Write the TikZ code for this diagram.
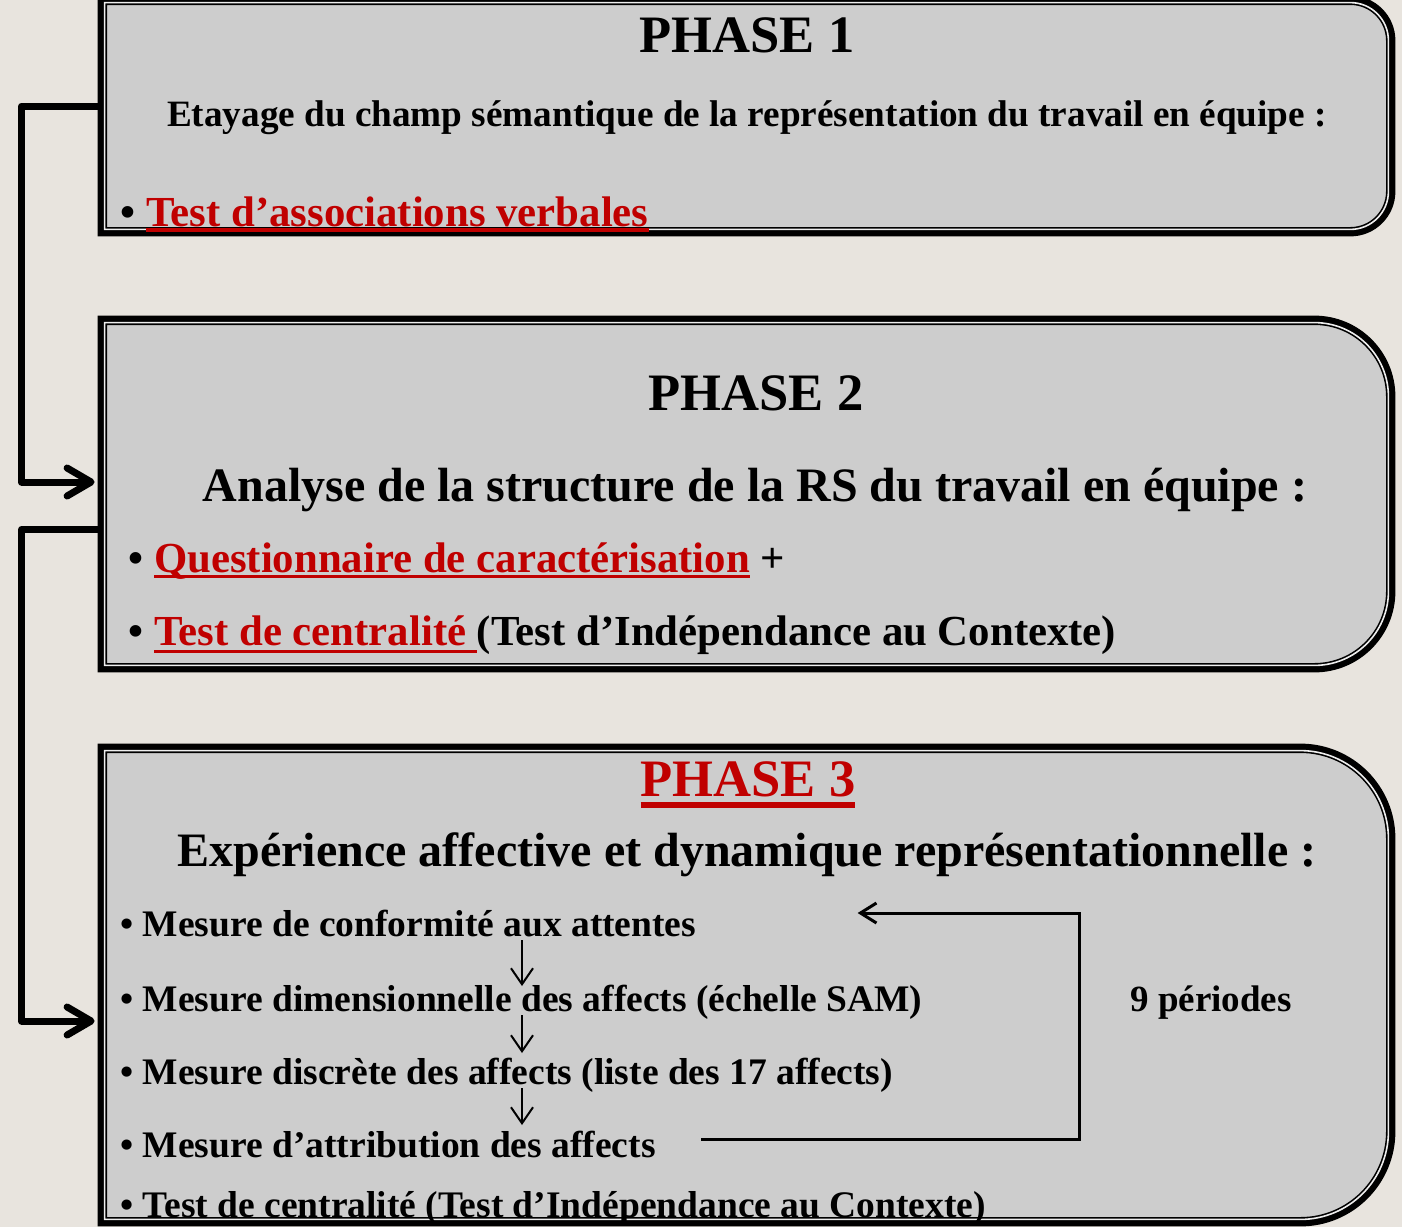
\documentclass[tikz,border=0pt]{standalone}
\usepackage{fontspec}
\setmainfont{Liberation Serif}
\usetikzlibrary{arrows.meta}

\definecolor{bgbeige}{HTML}{E8E4DE}
\definecolor{boxgrey}{HTML}{CDCDCD}
\definecolor{gapgrey}{HTML}{EEEEEE}
\definecolor{phred}{HTML}{C00000}

% red underlined text: #1 = rule thickness, #2 = depth of its lower edge
\newcommand{\redul}[3]{{\color{phred}\setbox0=\hbox{#3}\rlap{\rule[-#2]{\wd0}{#1}}\box0}}

% frame with sharp left corners and rounded right corners
\newcommand{\phaseframe}[2]{%
  \path[phase frame] (#1.north west) -- ([xshift=-#2]#1.north east)
    arc[start angle=90, end angle=0, radius=#2] -- ([yshift=#2]#1.south east)
    arc[start angle=0, end angle=-90, radius=#2] -- (#1.south west) -- cycle;}

\tikzset{
  phase box/.style={rectangle, inner sep=0pt, minimum width=641.5pt},
  phase frame/.style={fill=boxgrey, preaction={draw=black, line width=7pt},
    postaction={draw=black, double=gapgrey, double distance=0.8pt, line width=0.8pt}},
  link/.style={line width=3.5pt, line join=round,
    -{Straight Barb[length=12pt, width=14pt, line cap=round, line join=round]}},
  stepline/.style={line width=1pt, -{Straight Barb[length=8pt, width=11pt]}},
  loopline/.style={line width=1.5pt, -{Straight Barb[length=8pt, width=10pt]}},
  title/.style={anchor=base, inner sep=0pt, font=\fontsize{26.3}{30}\selectfont\bfseries},
  heading/.style={anchor=base, inner sep=0pt, font=\fontsize{#1}{#1}\selectfont\bfseries},
  item/.style={anchor=base west, inner sep=0pt, font=\fontsize{#1}{#1}\selectfont\bfseries},
  item/.default=18.75
}

\begin{document}
\begin{tikzpicture}[x=0.5pt, y=0.5pt]
\useasboundingbox (0,0) rectangle (1402,-1227);
\fill[bgbeige] (0,0) rectangle (1402,-1227);

% the three phases
\node[phase box, minimum height=113pt] (ph1) at (746.5,-116) {};
\node[phase box, minimum height=171pt] (ph2) at (746.5,-494) {};
\node[phase box, minimum height=234pt] (ph3) at (746.5,-985) {};

\draw[link] (ph1.west) ++(0,10) -- ++(-83,0) |- ([shift={(-5pt,6pt)}]ph2.west);
\draw[link] (ph2.west) ++(0,-35.5) -- ++(-83,0) |- ([shift={(-5pt,-18pt)}]ph3.west);

\phaseframe{ph1}{19pt}
\phaseframe{ph2}{37pt}
\phaseframe{ph3}{44pt}

% phase 1
\node[title] (t1) at (747,-52) {PHASE 1};
\node[heading=18.6] (h1) at (747,-126) {Etayage du champ sémantique de la représentation du travail en équipe :};
\node[item=21.4] (a1) at (120,-226) {\textbullet\ \redul{2pt}{3pt}{Test d’associations verbales}};

% phase 2
\node[title] (t2) at (756,-410) {PHASE 2};
\node[heading=24] (h2) at (755,-501) {Analyse de la structure de la RS du travail en équipe :};
\node[item=21.4] (b1) at (128,-572) {\textbullet\ \redul{1.7pt}{3pt}{Questionnaire de caractérisation} +};
\node[item=21.4] (b2) at (128,-645) {\textbullet\ \redul{1.7pt}{4pt}{Test de centralité\ }(Test d’Indépendance au Contexte)};

% phase 3
\node[title] (t3) at (748,-796) {\redul{3pt}{6pt}{PHASE 3}};
\node[heading=24] (h3) at (747,-866) {Expérience affective et dynamique représentationnelle :};
\node[item] (m1) at (120,-936) {\textbullet\ Mesure de conformité aux attentes};
\node[item] (m2) at (120,-1011) {\textbullet\ Mesure dimensionnelle des affects (échelle SAM)};
\node[item] (m3) at (120,-1084) {\textbullet\ Mesure discrète des affects (liste des 17 affects)};
\node[item] (m4) at (120,-1157) {\textbullet\ Mesure d’attribution des affects};
\node[item] (m5) at (120,-1217) {\textbullet\ Test de centralité (Test d’Indépendance au Contexte)};
\node[item=18.5] (per) at (1130,-1011) {9 périodes};

\coordinate (sx) at (522,0);
\draw[stepline] ([yshift=-2pt]m1.base -| sx) -- ([yshift=12.5pt]m2.base -| sx);
\draw[stepline] ([yshift=-2pt]m2.base -| sx) -- ([yshift=15.5pt]m3.base -| sx);
\draw[stepline] ([yshift=-2pt]m3.base -| sx) -- ([yshift=16pt]m4.base -| sx);

\coordinate (turn) at (1079,-1139);
\draw[loopline] ([shift={(22.5pt,9pt)}]m4.base east) -- (turn) |- ([shift={(80.5pt,11.5pt)}]m1.base east);
\end{tikzpicture}
\end{document}
